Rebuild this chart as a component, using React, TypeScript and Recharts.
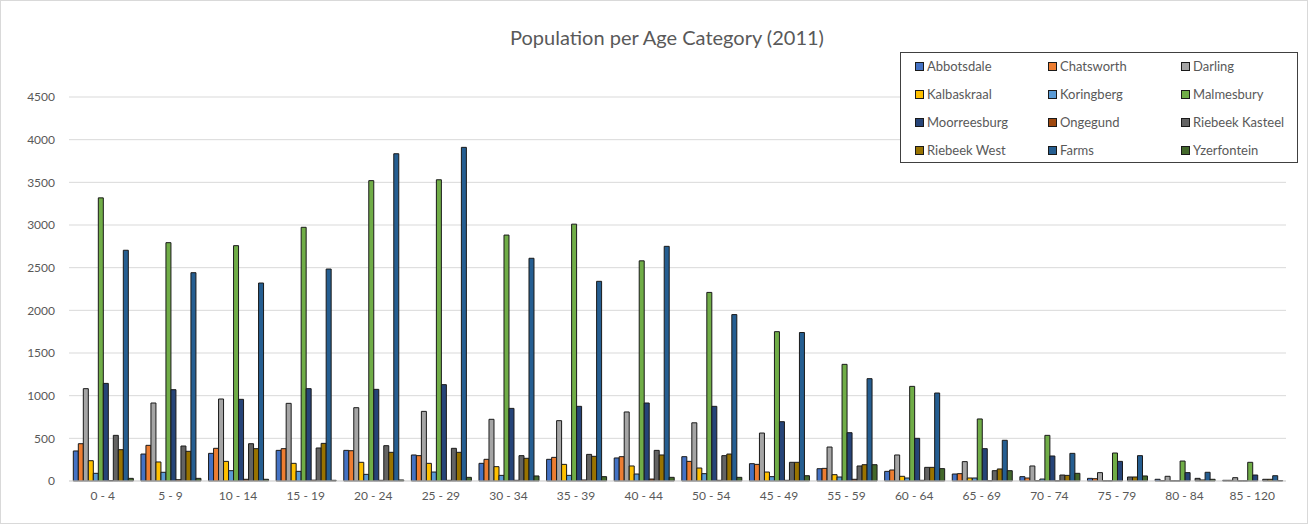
import React from "react";
import { BarChart, Bar, XAxis, YAxis, CartesianGrid } from "recharts";

// Age bands, in the order they are reported
const ageCategories = [
  "0 - 4", "5 - 9", "10 - 14", "15 - 19", "20 - 24", "25 - 29", "30 - 34", "35 - 39", "40 - 44",
  "50 - 54", "45 - 49", "55 - 59", "60 - 64", "65 - 69", "70 - 74", "75 - 79", "80 - 84", "85 - 120",
];

const abbotsdale = [352, 316, 324, 359, 359, 305, 207, 254, 270, 285, 203, 144, 113, 82, 51, 31, 20, 8];
const chatsworth = [437, 418, 383, 379, 355, 297, 254, 277, 285, 230, 195, 148, 129, 86, 35, 27, 4, 8];
const darling = [1082, 914, 961, 910, 859, 816, 723, 707, 809, 682, 562, 398, 305, 227, 176, 98, 55, 39];
const kalbaskraal = [238, 223, 230, 207, 219, 207, 168, 195, 176, 152, 105, 74, 55, 35, 4, 2, 2, 2];
const koringberg = [90, 102, 121, 113, 78, 105, 66, 66, 82, 86, 51, 47, 35, 35, 23, 2, 2, 2];
const malmesbury = [3318, 2793, 2758, 2973, 3520, 3530, 2882, 3010, 2580, 2210, 1750, 1367, 1109, 727, 535, 328, 234, 219];
const moorreesburg = [1144, 1070, 957, 1082, 1074, 1129, 851, 875, 914, 875, 695, 566, 500, 379, 293, 230, 98, 70];
const ongegund = [5, 15, 20, 10, 8, 8, 8, 12, 23, 8, 8, 20, 8, 3, 2, 0, 0, 0];
const riebeekKasteel = [535, 410, 437, 387, 414, 383, 297, 312, 359, 297, 219, 176, 160, 121, 70, 47, 31, 20];
const riebeekWest = [367, 348, 379, 441, 336, 336, 266, 289, 305, 316, 219, 191, 160, 141, 66, 47, 12, 20];
const farms = [2704, 2441, 2320, 2484, 3835, 3910, 2610, 2340, 2750, 1950, 1740, 1199, 1031, 477, 324, 297, 102, 62];
const yzerfontein = [31, 31, 20, 8, 12, 43, 59, 51, 43, 43, 62, 191, 145, 121, 90, 59, 20, 5];

const yTicks = [0, 500, 1000, 1500, 2000, 2500, 3000, 3500, 4000, 4500];

const seriesList = [
  { key: "Abbotsdale", values: abbotsdale, color: "#4472C4" },
  { key: "Chatsworth", values: chatsworth, color: "#ED7D31" },
  { key: "Darling", values: darling, color: "#A5A5A5" },
  { key: "Kalbaskraal", values: kalbaskraal, color: "#FFC000" },
  { key: "Koringberg", values: koringberg, color: "#5B9BD5" },
  { key: "Malmesbury", values: malmesbury, color: "#70AD47" },
  { key: "Moorreesburg", values: moorreesburg, color: "#264478" },
  { key: "Ongegund", values: ongegund, color: "#9E480E" },
  { key: "Riebeek Kasteel", values: riebeekKasteel, color: "#636363" },
  { key: "Riebeek West", values: riebeekWest, color: "#997300" },
  { key: "Farms", values: farms, color: "#255E91" },
  { key: "Yzerfontein", values: yzerfontein, color: "#43682B" },
];

const rows = ageCategories.map((age, i) => {
  const row: Record<string, string | number> = { age };
  seriesList.forEach((s) => {
    row[s.key] = s.values[i];
  });
  return row;
});

const FONT = "Lato, 'Open Sans', sans-serif";
const TEXT = "#595959";

function LegendBox() {
  return (
    <div
      style={{
        position: "absolute",
        left: 899,
        top: 51,
        width: 398,
        height: 111,
        boxSizing: "border-box",
        border: "1px solid #404040",
        background: "#fff",
        fontFamily: FONT,
        fontSize: 13,
        color: TEXT,
      }}
    >
      {seriesList.map((s, i) => {
        const col = i % 3;
        const row = Math.floor(i / 3);
        return (
          <div
            key={s.key}
            style={{
              position: "absolute",
              left: 14 + col * 133,
              top: 13 + row * 28 - 8,
              height: 16,
              display: "flex",
              alignItems: "center",
              whiteSpace: "nowrap",
            }}
          >
            <span
              style={{
                display: "inline-block",
                width: 7,
                height: 7,
                background: s.color,
                border: "1px solid #1a1a1a",
                marginRight: 3,
              }}
            />
            <span>{s.key}</span>
          </div>
        );
      })}
    </div>
  );
}

export default function App() {
  return (
    <div
      style={{
        position: "absolute",
        left: 0,
        top: 0,
        width: 1308,
        height: 524,
        boxSizing: "border-box",
        border: "1px solid #d9d9d9",
        background: "#fff",
        overflow: "hidden",
      }}
    >
      <div
        style={{
          position: "absolute",
          left: 13,
          width: 1306,
          top: 23,
          textAlign: "center",
          fontFamily: FONT,
          fontSize: 20,
          color: TEXT,
          lineHeight: "26px",
        }}
      >
        Population per Age Category (2011)
      </div>
      <div style={{ position: "absolute", left: -1, top: -1 }}>
        <BarChart
          width={1308}
          height={524}
          data={rows}
          margin={{ top: 97, right: 22, bottom: 13, left: 0 }}
          barGap={0}
          barCategoryGap="6.4%"
        >
          <CartesianGrid vertical={false} stroke="#d9d9d9" strokeWidth={1} />
          <XAxis
            dataKey="age"
            height={30}
            tickLine={false}
            axisLine={{ stroke: "#d9d9d9" }}
            tickSize={0}
            tickMargin={10}
            interval={0}
            tick={{ fill: TEXT, fontSize: 12, fontFamily: FONT }}
          />
          <YAxis
            width={69}
            domain={[0, 4500]}
            ticks={yTicks}
            axisLine={false}
            tickLine={false}
            tickSize={0}
            tickMargin={14}
            tick={{ fill: TEXT, fontSize: 12, fontFamily: FONT }}
          />
          {seriesList.map((s) => (
            <Bar
              key={s.key}
              dataKey={s.key}
              fill={s.color}
              stroke="#1a1a1a"
              strokeWidth={1}
              isAnimationActive={false}
            />
          ))}
        </BarChart>
      </div>
      <LegendBox />
    </div>
  );
}
